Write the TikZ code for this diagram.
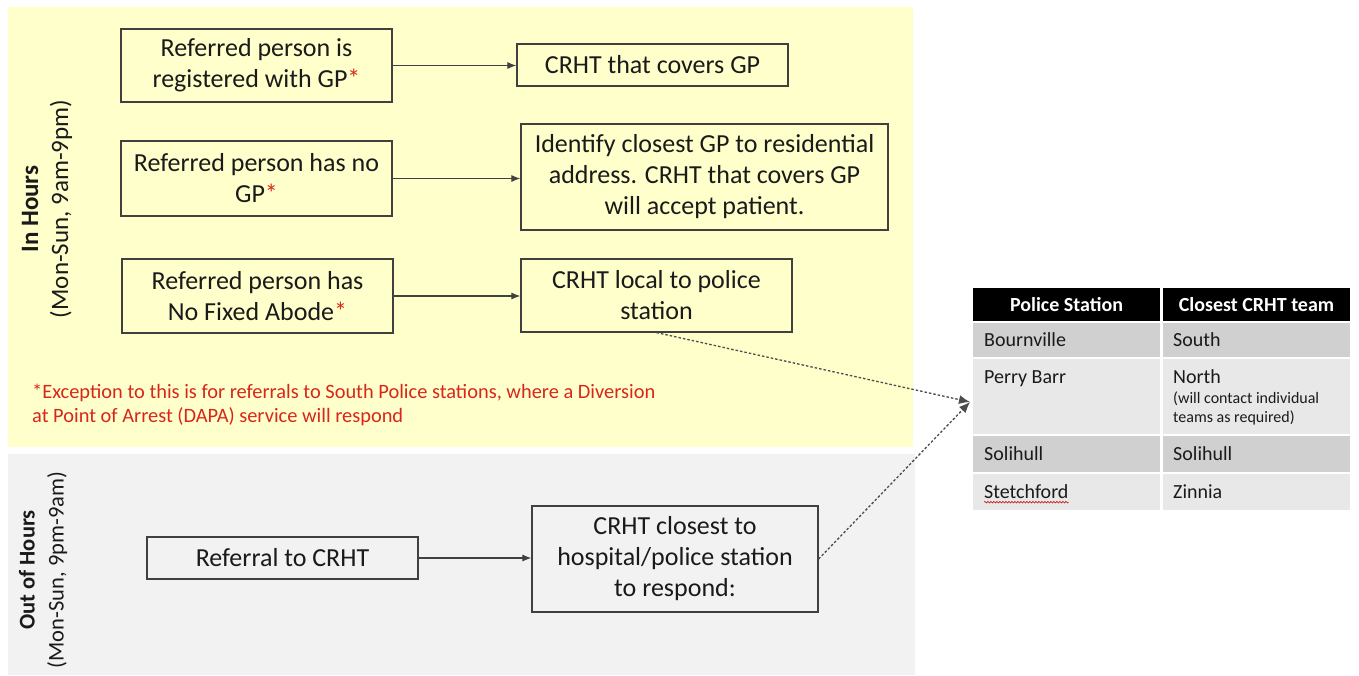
\documentclass[tikz,border=0pt]{standalone}
\usepackage{fontspec}
\setmainfont{Carlito}
\usetikzlibrary{arrows.meta,decorations.pathmorphing}
\definecolor{panelyellow}{HTML}{FFFFCC}
\definecolor{panelgray}{HTML}{F2F2F2}
\definecolor{boxline}{HTML}{404040}
\definecolor{notered}{HTML}{D9261C}
\definecolor{rowdark}{HTML}{D0D0D0}
\definecolor{rowlight}{HTML}{E8E8E8}
\definecolor{txt}{HTML}{1A1A1A}
\begin{document}
\begin{tikzpicture}[x=1pt,y=-1pt,
  flowbox/.style={draw=boxline, line width=1.2pt, inner sep=0pt, align=center,
    text=txt, font=\fontsize{26}{31}\selectfont},
  flowarrow/.style={draw=boxline, line width=1.1pt, -{Latex[length=9pt,width=7pt]}},
  dotarrow/.style={draw=black!70, line width=1.3pt, dash pattern=on 2.5pt off 2pt,
    -{Latex[length=11pt,width=9pt]}},
  cell/.style={inner sep=0pt, outer sep=0pt, anchor=north west, minimum width=187pt},
  hdr/.style={text=white, font=\fontsize{20}{24}\selectfont\bfseries},
  celltxt/.style={text=txt, font=\fontsize{20}{24}\selectfont, inner sep=0pt},
  sidelabel/.style={rotate=90, align=center, text=txt}
]
\useasboundingbox (0,0) rectangle (1359,675);
\fill[white] (0,0) rectangle (1359,675);
% panels
\fill[panelyellow] (8,7) rectangle (913,447);
\fill[panelgray] (8,454) rectangle (915,675);

% side labels
\node[sidelabel, font=\fontsize{25}{30}\selectfont] (inlab) at (47,209)
  {\textbf{In Hours}\\(Mon-Sun, 9am-9pm)};
\node[sidelabel, font=\fontsize{22.5}{29}\selectfont] (outlab) at (43,570)
  {\textbf{Out of Hours}\\(Mon-Sun, 9pm-9am)};

\newcommand{\redast}{\textcolor{notered}{*}}

% in-hours boxes
\node[flowbox, minimum width=271pt, minimum height=73pt] (b1) at (256.5,65.5)
  {Referred person is\\registered with GP\redast};
\node[flowbox, minimum width=271pt, minimum height=75pt] (b2) at (256.5,178.5)
  {Referred person has no\\GP\redast};
\node[flowbox, minimum width=271pt, minimum height=74pt] (b3) at (257.5,296)
  {Referred person has\\No Fixed Abode\redast};
\node[flowbox, minimum width=271pt, minimum height=42pt] (c1) at (652.5,65)
  {CRHT that covers GP};
\node[flowbox, minimum width=367pt, minimum height=106pt] (c2) at (704.5,177)
  {Identify closest GP to residential\\address. CRHT that covers GP\\will accept patient.};
\node[flowbox, minimum width=271pt, minimum height=73pt] (c3) at (656.5,295.5)
  {CRHT local to police\\station};

\draw[flowarrow] (b1.east) -- (c1.west |- b1.east);
\draw[flowarrow] (b2.east) -- (c2.west |- b2.east);
\draw[flowarrow] (b3.east) -- (c3.west |- b3.east);

% footnote
\node[anchor=west, align=left, inner sep=0pt, text=notered,
  font=\fontsize{20.4}{24}\selectfont] (note) at (32,405)
  {*Exception to this is for referrals to South Police stations, where a Diversion\\
   at Point of Arrest (DAPA) service will respond};

% out of hours boxes
\node[flowbox, minimum width=271pt, minimum height=42pt] (d1) at (282.5,558)
  {Referral to CRHT};
\node[flowbox, minimum width=286pt, minimum height=106pt] (d2) at (675,559)
  {CRHT closest to\\hospital/police station\\to respond:};
\draw[flowarrow] (d1.east) -- (d2.west |- d1.east);

% table
\node[cell, fill=black, minimum height=33pt] (h1) at (973,288) {};
\node[cell, fill=black, minimum height=33pt] (h2) at (1163,288) {};
\node[cell, fill=rowdark, minimum height=34pt] (r1a) at (973,323) {};
\node[cell, fill=rowdark, minimum height=34pt] (r1b) at (1163,323) {};
\node[cell, fill=rowlight, minimum height=75pt] (r2a) at (973,359) {};
\node[cell, fill=rowlight, minimum height=75pt] (r2b) at (1163,359) {};
\node[cell, fill=rowdark, minimum height=36pt] (r3a) at (973,436) {};
\node[cell, fill=rowdark, minimum height=36pt] (r3b) at (1163,436) {};
\node[cell, fill=rowlight, minimum height=36pt] (r4a) at (973,474) {};
\node[cell, fill=rowlight, minimum height=36pt] (r4b) at (1163,474) {};

\node[hdr] (th1) at (h1.center) {Police Station};
\node[hdr] (th2) at (h2.center) {Closest CRHT team};
\node[celltxt, anchor=west] (t1a) at ([xshift=11pt]r1a.west) {Bournville};
\node[celltxt, anchor=west] (t1b) at ([xshift=10pt]r1b.west) {South};
\node[celltxt, anchor=base west] (t2a) at (984,383) {Perry Barr};
\node[celltxt, anchor=base west] (t2b) at (1173,383) {North};
\node[celltxt, anchor=north west, align=left, font=\fontsize{16}{19}\selectfont] (t2c)
  at (1173,392) {(will contact individual\\teams as required)};
\node[celltxt, anchor=west] (t3a) at ([xshift=11pt]r3a.west) {Solihull};
\node[celltxt, anchor=west] (t3b) at ([xshift=10pt]r3b.west) {Solihull};
\node[celltxt, anchor=west] (t4a) at ([xshift=11pt]r4a.west) {Stetchford};
\node[celltxt, anchor=west] (t4b) at ([xshift=10pt]r4b.west) {Zinnia};
\draw[red!80!black, line width=0.6pt, decorate,
  decoration={snake, amplitude=0.8pt, segment length=3pt}]
  ([yshift=-3pt]t4a.south west) -- ([yshift=-3pt]t4a.south east);

% dotted connectors
\coordinate (tip) at (970,402);
\draw[dotarrow] (c3.south) -- (tip);
\draw[dotarrow] (d2.east) -- (tip);
\end{tikzpicture}
\end{document}
